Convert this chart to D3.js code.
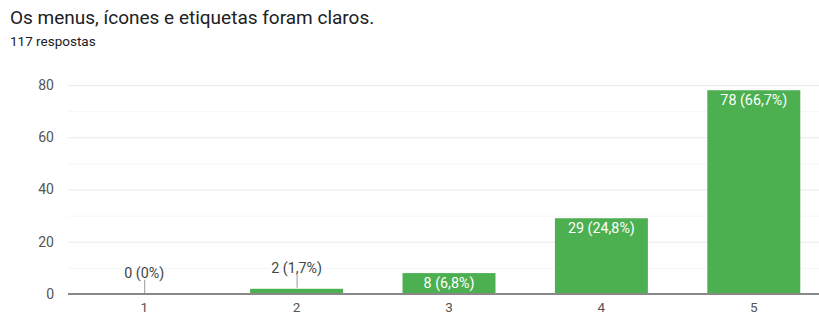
<!DOCTYPE html>
<html>
<head>
<meta charset="utf-8">
<script src="https://cdn.jsdelivr.net/npm/d3@7"></script>
<style>
  body { margin: 0; background: #fff; }
  text { font-family: Roboto, Arial, sans-serif; }
</style>
</head>
<body>
<script>
// chart data
var categories = ['1', '2', '3', '4', '5'];
var counts = [0, 2, 8, 29, 78];
var percents = ['0%', '1,7%', '6,8%', '24,8%', '66,7%'];
var yTicks = [0, 20, 40, 60, 80];
var yMinor = [10, 30, 50, 70];

var title = 'Os menus, ícones e etiquetas foram claros.';
var subtitle = '117 respostas';

var W = 819, H = 318;
var margin = {top: 85, left: 68, bottom: 24};
var plotRight = 830;
var green = '#4caf50';

var svg = d3.select('body').append('svg')
            .attr('width', W)
            .attr('height', H);

svg.append('text')
   .attr('x', 10).attr('y', 24)
   .attr('font-size', 19)
   .attr('fill', '#202124')
   .text(title);

svg.append('text')
   .attr('x', 10).attr('y', 46)
   .attr('font-size', 13.5)
   .attr('fill', '#202124')
   .text(subtitle);

var xScale = d3.scaleBand()
               .domain(categories)
               .range([margin.left, plotRight])
               .paddingInner(0.39)
               .paddingOuter(0.195);
var yScale = d3.scaleLinear().domain([0, 80]).range([H - margin.bottom, margin.top]);

// gridlines
svg.append('g').selectAll('line.minor')
   .data(yMinor).enter().append('line')
   .attr('x1', margin.left).attr('x2', W)
   .attr('y1', function(d) { return yScale(d) + 0.5; })
   .attr('y2', function(d) { return yScale(d) + 0.5; })
   .attr('stroke', '#f6f6f6');

svg.append('g').selectAll('line.major')
   .data(yTicks.slice(1)).enter().append('line')
   .attr('x1', margin.left).attr('x2', W)
   .attr('y1', function(d) { return yScale(d) + 0.5; })
   .attr('y2', function(d) { return yScale(d) + 0.5; })
   .attr('stroke', '#ebebeb');

// y axis labels
var yAxis = svg.append('g')
   .attr('transform', 'translate(' + (margin.left - 14) + ',0)')
   .call(d3.axisLeft(yScale).tickValues(yTicks).tickSize(0).tickPadding(0));
yAxis.select('.domain').remove();
yAxis.selectAll('text').attr('font-size', 14).attr('fill', '#555').attr('font-family', 'Roboto, Arial, sans-serif');

// bars
svg.append('g').selectAll('rect')
   .data(counts).enter().append('rect')
   .attr('x', function(d, i) { return xScale(categories[i]); })
   .attr('width', xScale.bandwidth())
   .attr('y', function(d) { return yScale(d); })
   .attr('height', function(d) { return yScale(0) - yScale(d); })
   .attr('fill', green);

// baseline
svg.append('line')
   .attr('x1', margin.left).attr('x2', W)
   .attr('y1', yScale(0)).attr('y2', yScale(0))
   .attr('stroke', '#888').attr('stroke-width', 2);

// x axis labels
var xAxis = svg.append('g')
   .attr('transform', 'translate(0,' + (yScale(0) + 8) + ')')
   .call(d3.axisBottom(xScale).tickSize(0).tickPadding(0));
xAxis.select('.domain').remove();
xAxis.selectAll('text').attr('font-size', 13.5).attr('fill', '#555').attr('font-family', 'Roboto, Arial, sans-serif');

// value labels
var labels = svg.append('g');
counts.forEach(function(d, i) {
  var cx = xScale(categories[i]) + xScale.bandwidth() / 2;
  var txt = d + ' (' + percents[i] + ')';
  var barH = yScale(0) - yScale(d);
  if (barH >= 16) {
    labels.append('text')
      .attr('x', cx).attr('y', yScale(d) + 15)
      .attr('text-anchor', 'middle')
      .attr('font-size', 14.3)
      .attr('fill', '#fff')
      .text(txt);
  } else {
    labels.append('line')
      .attr('x1', cx + 0.5).attr('x2', cx + 0.5)
      .attr('y1', yScale(d) - 1).attr('y2', yScale(d) - 14)
      .attr('stroke', '#999');
    labels.append('text')
      .attr('x', cx).attr('y', yScale(d) - 16)
      .attr('text-anchor', 'middle')
      .attr('font-size', 14.3)
      .attr('fill', '#444')
      .text(txt);
  }
});
</script>
</body>
</html>
